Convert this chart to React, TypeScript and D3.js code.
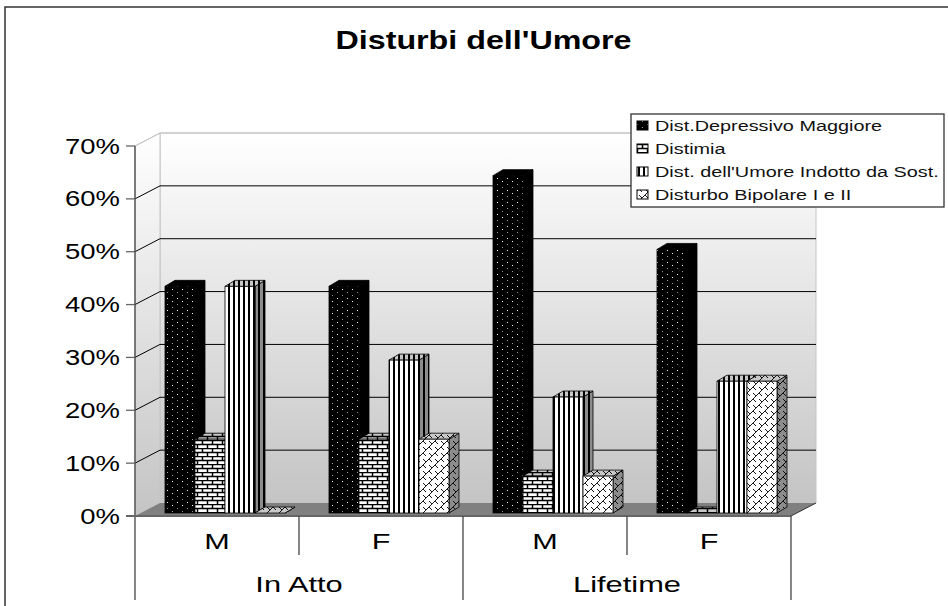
import React from "react";
import * as d3 from "d3";

const groups = ["M", "F", "M", "F"];
const outerLabels = ["In Atto", "Lifetime"];
const seriesNames = [
  "Dist.Depressivo Maggiore",
  "Distimia",
  "Dist. dell'Umore Indotto da Sost.",
  "Disturbo Bipolare I e II",
];
const depressivo = [43, 43, 64, 50];
const distimia = [14, 14, 7, 0];
const indotto = [43, 29, 22, 25];
const bipolare = [0, 14, 7, 25];
const seriesValues = [depressivo, distimia, indotto, bipolare];
const tickValues = [0, 10, 20, 30, 40, 50, 60, 70];
const patternIds = ["dots", "bricks", "stripes", "weave"];

const W = 948, H = 606;
const DX = 25, DY = -13; // floor depth
const barDX = 10, barDY = -6;
const frontLeft = 135, frontRight = 791;
const axisFront = d3.scaleLinear().domain([0, 70]).range([516, 146]);
const wallY = (v: number) => axisFront(v) + DY;
const barY = d3.scaleLinear().domain([0, 70]).range([513, 144]);
const groupX = d3.scaleBand<number>().domain([0, 1, 2, 3]).range([frontLeft, frontLeft + 656]).padding(0);
const barX = d3.scaleBand<number>().domain([0, 1, 2, 3]).range([30, 150]);

const font = "'Liberation Sans', Arial, sans-serif";
const pts = (a: number[][]) => a.map((p) => p.join(",")).join(" ");

function Stretched({ x, y, sx, anchor, size, bold, fill, children }: any) {
  return (
    <text
      transform={`translate(${x},${y}) scale(${sx},1)`}
      textAnchor={anchor}
      fontFamily={font}
      fontSize={size}
      fontWeight={bold ? 700 : 400}
      fill={fill || "#000"}
    >
      {children}
    </text>
  );
}

function Patterns({ suffix, bg, fg }: { suffix: string; bg: string; fg: string }) {
  return (
    <>
      <pattern id={"dots" + suffix} width="10" height="12" patternUnits="userSpaceOnUse">
        <rect width="10" height="12" fill="#000" />
        <rect x="2" y="1" width="1" height="1" fill={suffix ? "#555" : "#fff"} />
        <rect x="7" y="4" width="1" height="1" fill={suffix ? "#555" : "#999"} />
        <rect x="2" y="7" width="1" height="1" fill={suffix ? "#555" : "#999"} />
        <rect x="7" y="10" width="1" height="1" fill={suffix ? "#555" : "#fff"} />
      </pattern>
      <pattern id={"bricks" + suffix} width="10" height="8" patternUnits="userSpaceOnUse">
        <rect width="10" height="8" fill={bg} />
        <path d="M0 .5H10M0 4.5H10M2.5 0V4M7.5 4V8" stroke={fg} strokeWidth="1.5" fill="none" />
      </pattern>
      <pattern id={"stripes" + suffix} width="5" height="8" patternUnits="userSpaceOnUse">
        <rect width="5" height="8" fill={bg} />
        <rect x="3" width="2" height="8" fill={fg} />
      </pattern>
      <pattern id={"weave" + suffix} width="16" height="16" patternUnits="userSpaceOnUse" patternTransform="scale(0.75)">
        <rect width="16" height="16" fill={bg} />
        <path
          d="M0 16L16 0M-8 8L8 -8M8 24L24 8M4 4L8 8M12 12L16 16M12 4L16 8M4 12L8 16"
          stroke={fg}
          strokeWidth="1.2"
          fill="none"
        />
      </pattern>
    </>
  );
}

function Bar({ x, v, s }: { x: number; v: number; s: number }) {
  const w = barX.bandwidth();
  const y0 = barY(0), y1 = barY(v);
  const id = patternIds[s];
  const stroke = { stroke: "#000", strokeWidth: 0.8 };
  const sideFill = s === 0 ? "#000" : `url(#${id}-d)`;
  const topFill = s === 0 ? "#000" : `url(#${id}-t)`;
  return (
    <g>
      <polygon points={pts([[x + w, y1], [x + w + barDX, y1 + barDY], [x + w + barDX, y0 + barDY], [x + w, y0]])} fill={sideFill} {...stroke} />
      <polygon points={pts([[x, y1], [x + barDX, y1 + barDY], [x + w + barDX, y1 + barDY], [x + w, y1]])} fill={topFill} {...stroke} />
      <rect x={x} y={y1} width={w} height={y0 - y1} fill={`url(#${id})`} {...stroke} />
    </g>
  );
}

export default function App() {
  return (
    <svg width={W} height={H} style={{ position: "absolute", left: 0, top: 0, background: "#fff" }}>
      <defs>
        <linearGradient id="wall" x1="0" y1="0" x2="0" y2="1">
          <stop offset="0" stopColor="#ffffff" />
          <stop offset="1" stopColor="#c4c4c4" />
        </linearGradient>
        <Patterns suffix="" bg="#fff" fg="#000" />
        <Patterns suffix="-d" bg="#8c8c8c" fg="#000" />
        <Patterns suffix="-t" bg="#c8c8c8" fg="#000" />
      </defs>

      <path d={`M5 606V7H${W}`} fill="none" stroke="#333" strokeWidth="1.5" />

      <Stretched x={483.5} y={49} sx={1.29} anchor="middle" size={25} bold>Disturbi dell'Umore</Stretched>

      {/* walls and floor */}
      <polygon points={pts([[frontLeft + DX, wallY(70)], [frontRight + DX, wallY(70)], [frontRight + DX, wallY(0)], [frontLeft + DX, wallY(0)]])} fill="url(#wall)" stroke="#c4c4c4" />
      <polygon points={pts([[frontLeft, axisFront(70)], [frontLeft + DX, wallY(70)], [frontLeft + DX, wallY(0)], [frontLeft, axisFront(0)]])} fill="url(#wall)" stroke="#c4c4c4" />
      <polygon points={pts([[frontLeft, axisFront(0)], [frontLeft + DX, wallY(0)], [frontRight + DX, wallY(0)], [frontRight, axisFront(0)]])} fill="#808080" />

      {/* gridlines */}
      {tickValues.slice(1, -1).map((t) => (
        <polyline key={t} points={pts([[frontLeft, axisFront(t)], [frontLeft + DX, wallY(t)], [frontRight + DX, wallY(t)]])} fill="none" stroke="#000" strokeWidth="1" />
      ))}
      <polyline points={pts([[frontLeft, axisFront(70)], [frontLeft + DX, wallY(70)], [frontRight + DX, wallY(70)]])} fill="none" stroke="#c4c4c4" />

      {/* y axis */}
      <line x1={frontLeft} x2={frontLeft} y1={axisFront(70)} y2={600} stroke="#444" strokeWidth="1.3" />
      {tickValues.map((t) => (
        <g key={t}>
          <line x1={frontLeft - 9} x2={frontLeft} y1={axisFront(t)} y2={axisFront(t)} stroke="#666" strokeWidth="1.3" />
          <Stretched x={120} y={axisFront(t) + 7.5} sx={1.22} anchor="end" size={22.5}>{t}%</Stretched>
        </g>
      ))}

      {/* bars */}
      {groups.map((_, g) =>
        seriesValues.map((vals, s) => (
          <Bar key={`${g}-${s}`} x={(groupX(g) as number) + (barX(s) as number)} v={vals[g]} s={s} />
        ))
      )}

      {/* bottom axis */}
      <line x1={frontLeft - 9} x2={frontRight} y1={516} y2={516} stroke="#666" strokeWidth="2" />
      <line x1={frontRight} x2={frontRight + DX} y1={516} y2={503} stroke="#333" strokeWidth="1" />
      {groups.map((g, i) => (
        <g key={i}>
          <Stretched x={(groupX(i) as number) + groupX.bandwidth() / 2} y={549} sx={1.36} anchor="middle" size={22.5}>{g}</Stretched>
          <line x1={(groupX(i) as number) + groupX.bandwidth()} x2={(groupX(i) as number) + groupX.bandwidth()} y1={516} y2={i % 2 === 1 ? 600 : 555} stroke="#444" strokeWidth="1.3" />
        </g>
      ))}
      {outerLabels.map((l, i) => (
        <Stretched key={l} x={(groupX(i * 2 + 1) as number)} y={592} sx={1.37} anchor="middle" size={22.5}>{l}</Stretched>
      ))}

      {/* legend */}
      <rect x={631} y={114} width={313} height={93} fill="#fff" stroke="#333" strokeWidth="1.3" />
      {seriesNames.map((n, i) => (
        <g key={n}>
          <rect x={637} y={121 + i * 23} width={11} height={9} fill={`url(#${patternIds[i]})`} stroke="#000" />
          <Stretched x={655} y={131 + i * 23} sx={1.28} anchor="start" size={15.5} fill="#111">{n}</Stretched>
        </g>
      ))}
    </svg>
  );
}
